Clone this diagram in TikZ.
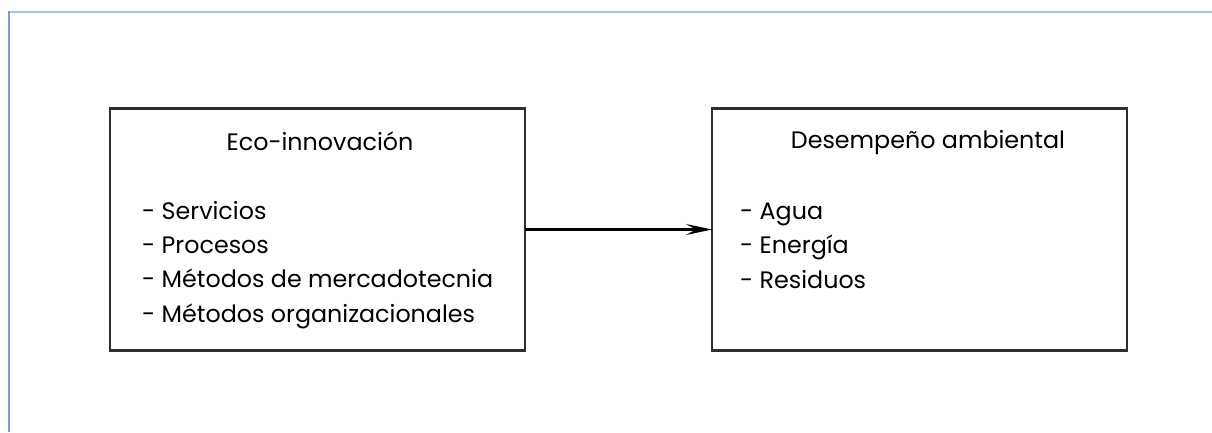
\documentclass[tikz,border=0pt]{standalone}
\usepackage{fontspec}
\setmainfont{Poppins}
\usetikzlibrary{arrows.meta}
\definecolor{frametop}{HTML}{A7C3E3}
\definecolor{frameleft}{HTML}{6F9FD8}
\definecolor{ink}{HTML}{2E2E2E}
\tikzset{
  box/.style={draw=ink, line width=2.4pt, minimum width=415pt, minimum height=242pt, inner sep=0pt, outer sep=0pt},
  txt/.style={anchor=base west, inner sep=0pt, font=\fontsize{23.8}{28}\selectfont, text=black},
  ttl/.style={anchor=base, inner sep=0pt, font=\fontsize{23.8}{28}\selectfont, text=black},
  link/.style={draw=black, line width=2.2pt, -{Stealth[length=26pt, width=11pt, inset=10pt]}}
}
\begin{document}
\begin{tikzpicture}[x=1pt, y=-1pt]
\useasboundingbox (0,0) rectangle (1212,432);
\draw[frametop, line width=2.2pt] (8,12) -- (1212,12);
\draw[frameleft, line width=2pt] (9,11) -- (9,432);
\node[box] (eco) at (317.5,229.5) {};
\node[box] (des) at (919.5,229.5) {};
\draw[link] (eco.east) -- (des.west);
\node[ttl] (ecot) at (320,150) {Eco-innovación};
\node[txt] (e1) at (142,219) {- Servicios};
\node[txt] (e2) at (142,253) {- Procesos};
\node[txt] (e3) at (142,287) {- Métodos de mercadotecnia};
\node[txt] (e4) at (142,322) {- Métodos organizacionales};
\node[ttl] (dest) at (928,148) {Desempeño ambiental};
\node[txt] (d1) at (740,219) {- Agua};
\node[txt] (d2) at (740,253) {- Energía};
\node[txt] (d3) at (740,288) {- Residuos};
\end{tikzpicture}
\end{document}
